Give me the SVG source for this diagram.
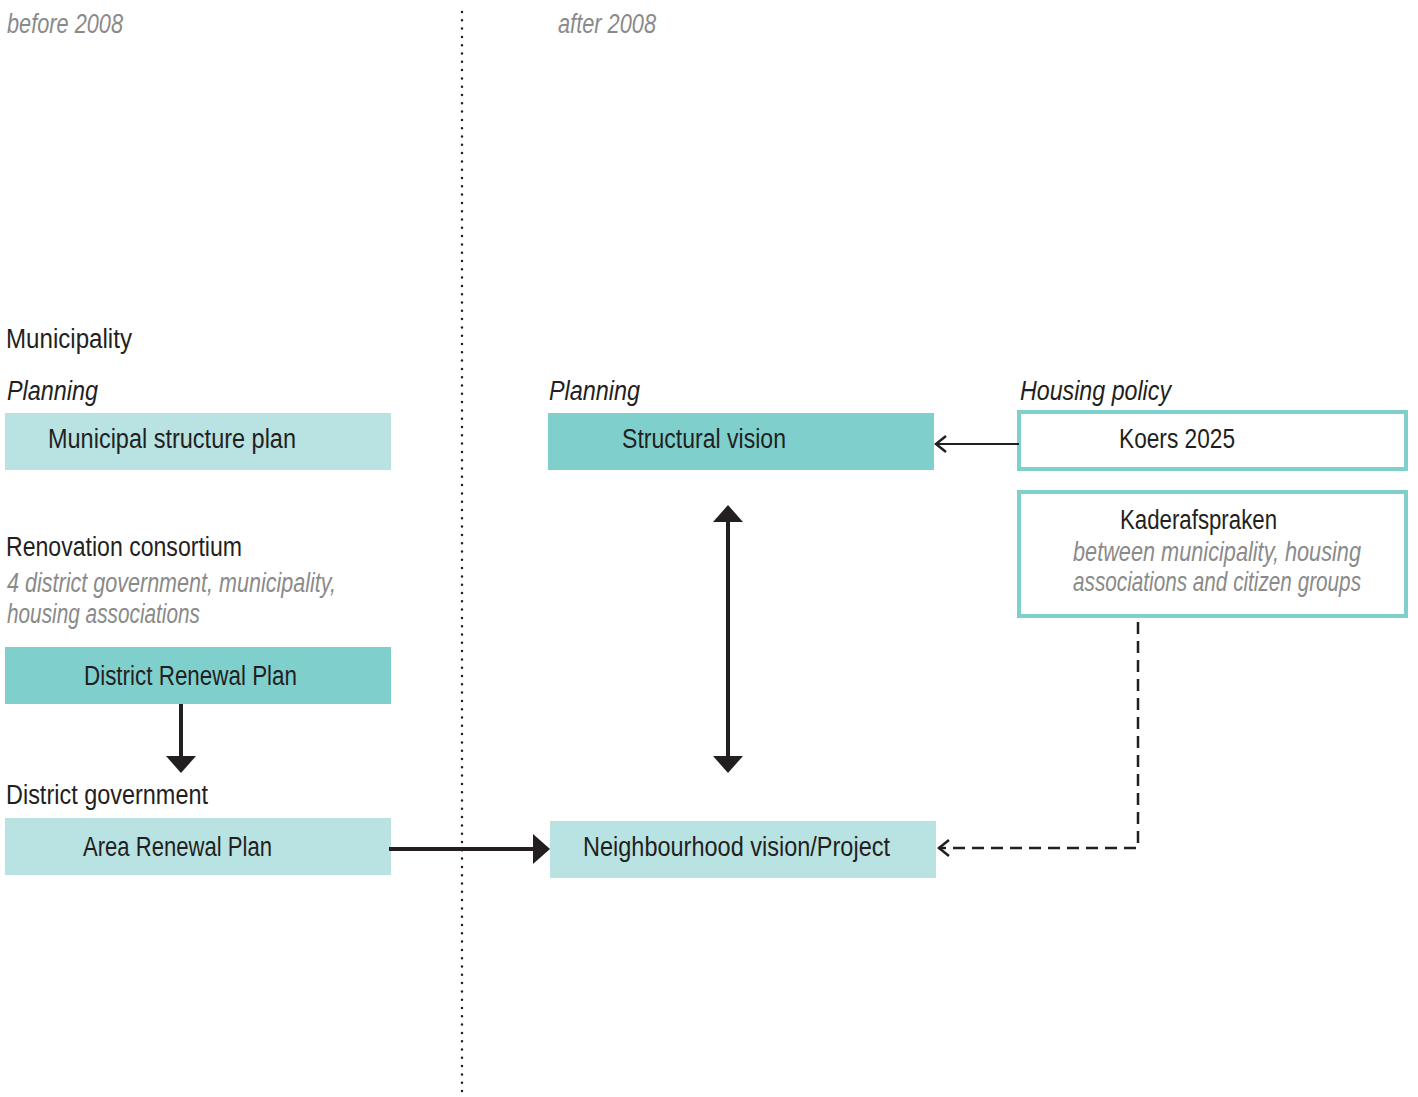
<svg xmlns="http://www.w3.org/2000/svg" width="1418" height="1097" viewBox="0 0 1418 1097">
<style>
text{font-family:"Liberation Sans",Arial,sans-serif;font-size:27px;fill:#231f20}
.it{font-style:italic}
.gray{fill:#8a8a8a;font-style:italic}
.light{fill:#b9e2e2}
.dark{fill:#7fcfcd}
.outl{fill:#fff;stroke:#7fcfcd;stroke-width:4}
.thick{stroke:#231f20;stroke-width:4;fill:none}
.head{fill:#231f20}
</style>
<defs>
<marker id="open" markerWidth="14" markerHeight="20" refX="12" refY="10" orient="auto" markerUnits="userSpaceOnUse">
<path d="M2 2 L12 10 L2 18" fill="none" stroke="#231f20" stroke-width="2.5"/>
</marker>
</defs>
<g id="divider"><line x1="462" y1="12" x2="462" y2="1095" stroke="#231f20" stroke-width="2.5" stroke-dasharray="0 8.3" stroke-linecap="round"/></g>
<g id="headers">
<text class="gray" x="7" y="33" textLength="116" lengthAdjust="spacingAndGlyphs">before 2008</text>
<text class="gray" x="558" y="33" textLength="98" lengthAdjust="spacingAndGlyphs">after 2008</text>
</g>
<g id="labels">
<text x="6" y="348" textLength="126" lengthAdjust="spacingAndGlyphs">Municipality</text>
<text class="it" x="7" y="400" textLength="91" lengthAdjust="spacingAndGlyphs">Planning</text>
<text x="6" y="556" textLength="236" lengthAdjust="spacingAndGlyphs">Renovation consortium</text>
<text class="gray" x="7" y="592" textLength="329" lengthAdjust="spacingAndGlyphs">4 district government, municipality,</text>
<text class="gray" x="7" y="623" textLength="193" lengthAdjust="spacingAndGlyphs">housing associations</text>
<text x="6" y="804" textLength="202" lengthAdjust="spacingAndGlyphs">District government</text>
<text class="it" x="549" y="400" textLength="91" lengthAdjust="spacingAndGlyphs">Planning</text>
<text class="it" x="1020" y="400" textLength="151" lengthAdjust="spacingAndGlyphs">Housing policy</text>
</g>
<g id="municipal-structure-plan">
<rect class="light" x="5" y="413" width="386" height="57"/>
<text x="48" y="448" textLength="248" lengthAdjust="spacingAndGlyphs">Municipal structure plan</text>
</g>
<g id="district-renewal-plan">
<rect class="dark" x="5" y="647" width="386" height="57"/>
<text x="84" y="685" textLength="213" lengthAdjust="spacingAndGlyphs">District Renewal Plan</text>
</g>
<g id="area-renewal-plan">
<rect class="light" x="5" y="818" width="386" height="57"/>
<text x="83" y="856" textLength="189" lengthAdjust="spacingAndGlyphs">Area Renewal Plan</text>
</g>
<g id="structural-vision">
<rect class="dark" x="548" y="413" width="386" height="57"/>
<text x="622" y="448" textLength="164" lengthAdjust="spacingAndGlyphs">Structural vision</text>
</g>
<g id="neighbourhood-vision">
<rect class="light" x="550" y="821" width="386" height="57"/>
<text x="583" y="856" textLength="307" lengthAdjust="spacingAndGlyphs">Neighbourhood vision/Project</text>
</g>
<g id="koers-2025">
<rect class="outl" x="1019" y="412" width="387" height="57"/>
<text x="1119" y="448" textLength="116" lengthAdjust="spacingAndGlyphs">Koers 2025</text>
</g>
<g id="kaderafspraken">
<rect class="outl" x="1019" y="492" width="387" height="124"/>
<text x="1120" y="529" textLength="157" lengthAdjust="spacingAndGlyphs">Kaderafspraken</text>
<text class="gray" transform="translate(1073,561) scale(0.8,1)" x="0" y="0" textLength="360" lengthAdjust="spacingAndGlyphs">between municipality, housing</text>
<text class="gray" transform="translate(1073,591) scale(0.8,1)" x="0" y="0" textLength="360" lengthAdjust="spacingAndGlyphs">associations and citizen groups</text>
</g>
<g id="connectors">
<line class="thick" x1="181" y1="704" x2="181" y2="757"/>
<path class="head" d="M166 756 L196 756 L181 773 Z"/>
<line class="thick" x1="389" y1="849" x2="535" y2="849"/>
<path class="head" d="M533 834 L550 849 L533 864 Z"/>
<line class="thick" x1="728" y1="520" x2="728" y2="758"/>
<path class="head" d="M713 522 L743 522 L728 505 Z"/>
<path class="head" d="M713 756 L743 756 L728 773 Z"/>
<line x1="1019" y1="444" x2="936" y2="444" stroke="#231f20" stroke-width="2" marker-end="url(#open)"/>
<path d="M1138 622 L1138 848 L939 848" fill="none" stroke="#231f20" stroke-width="2.5" stroke-dasharray="12 7" marker-end="url(#open)"/>
</g>
</svg>
